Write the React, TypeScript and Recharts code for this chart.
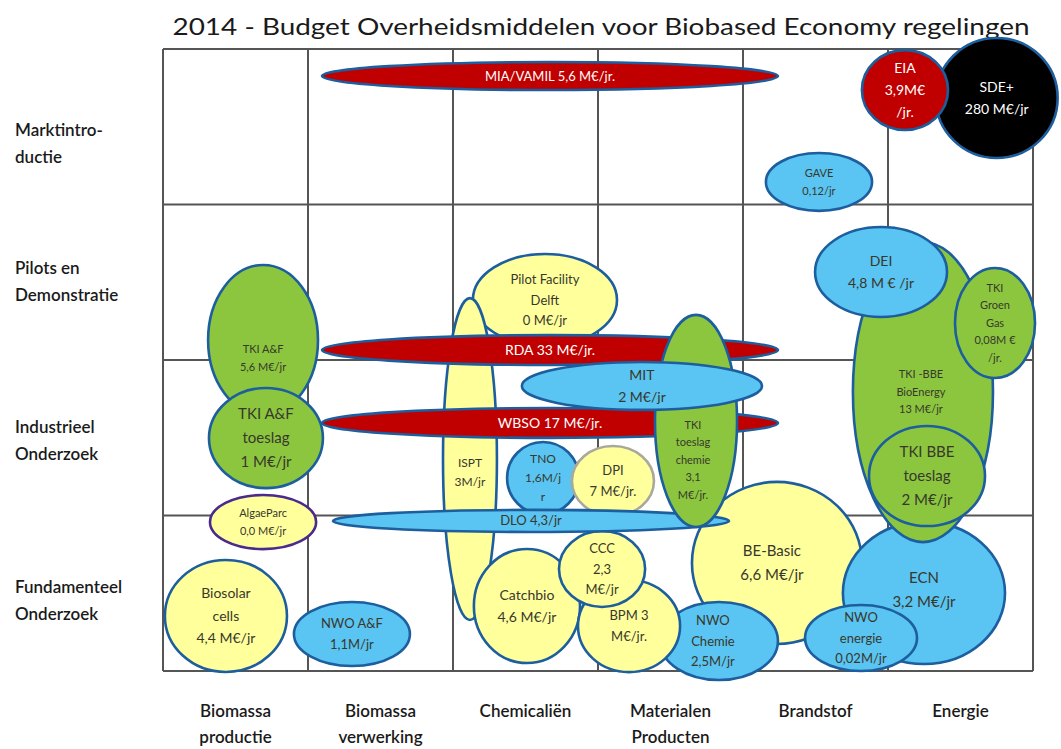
import React from 'react';
import { ScatterChart, Scatter, XAxis, YAxis, ReferenceLine } from 'recharts';

// chart frame
const W = 1061;
const H = 749;
const LEFT = 163;
const RIGHT = 28;
const TOP = 49;
const BOTTOM = 78;
const PW = W - LEFT - RIGHT;
const PH = H - TOP - BOTTOM;

const columns = [
    ['Biomassa', 'productie'],
    ['Biomassa', 'verwerking'],
    ['Chemicaliën'],
    ['Materialen', 'Producten'],
    ['Brandstof'],
    ['Energie'],
];
const columnTicks = [0.5, 1.5, 2.5, 3.5, 4.5, 5.5];

const rows = [
    ['Fundamenteel', 'Onderzoek'],
    ['Industrieel', 'Onderzoek'],
    ['Pilots en', 'Demonstratie'],
    ['Marktintro-', 'ductie'],
];
const rowTicks = [0.45, 1.48, 2.5, 3.39];

const gridX = [0, 1, 2, 3, 4, 5, 6];
const gridY = [0, 1, 2, 3, 4];

// regelingen, in drawing order (later ones sit on top)
const schemes = [
    'SDE+', 'EIA', 'MIA/VAMIL', 'GAVE', 'BE-Basic', 'ECN', 'TKI-BBE BioEnergy', 'DEI',
    'TKI Groen Gas', 'TKI BBE toeslag', 'NWO energie', 'NWO Chemie', 'Pilot Facility Delft', 'ISPT',
    'Catchbio', 'BPM', 'CCC', 'TNO', 'DPI', 'DLO', 'RDA', 'WBSO', 'TKI toeslag chemie', 'MIT',
    'TKI A&F', 'TKI A&F toeslag', 'AlgaeParc', 'Biosolar cells', 'NWO A&F',
];
const labels = [
    ['SDE+', '280 M€/jr'],
    ['EIA', '3,9M€', '/jr.'],
    ['MIA/VAMIL 5,6 M€/jr.'],
    ['GAVE', '0,12/jr'],
    ['BE-Basic', '6,6 M€/jr'],
    ['ECN', '3,2 M€/jr'],
    ['TKI -BBE', 'BioEnergy', '13 M€/jr'],
    ['DEI', '4,8 M € /jr'],
    ['TKI', 'Groen', 'Gas', '0,08M €', '/jr.'],
    ['TKI BBE', 'toeslag', '2 M€/jr'],
    ['NWO', 'energie', '0,02M/jr'],
    ['NWO', 'Chemie', '2,5M/jr'],
    ['Pilot Facility', 'Delft', '0 M€/jr'],
    ['ISPT', '3M/jr'],
    ['Catchbio', '4,6 M€/jr'],
    ['BPM 3', 'M€/jr.'],
    ['CCC', '2,3', 'M€/jr'],
    ['TNO', '1,6M/j', 'r'],
    ['DPI', '7 M€/jr.'],
    ['DLO 4,3/jr'],
    ['RDA 33 M€/jr.'],
    ['WBSO 17 M€/jr.'],
    ['TKI', 'toeslag', 'chemie', '3,1', 'M€/jr.'],
    ['MIT', '2 M€/jr'],
    ['TKI A&F', '5,6 M€/jr'],
    ['TKI A&F', 'toeslag', '1 M€/jr'],
    ['AlgaeParc', '0,0 M€/jr'],
    ['Biosolar', 'cells', '4,4 M€/jr'],
    ['NWO A&F', '1,1M/jr'],
];
const kinds = [
    'black', 'red', 'red', 'blue', 'yellow', 'blue', 'green', 'blue',
    'green', 'green', 'blue', 'blue', 'yellow', 'yellow',
    'yellow', 'yellow', 'yellow', 'blue', 'yellow', 'blue', 'red', 'red', 'green', 'blue',
    'green', 'green', 'yellow', 'yellow', 'blue',
];
// centre (column units, row units) and half-widths in the same units
const xs = [5.75, 5.117, 2.669, 4.524, 4.234, 5.248, 5.241, 4.952, 5.738, 5.269, 4.814, 3.834, 2.634, 2.117, 2.51, 3.214, 3.028, 2.621, 3.103, 2.538, 2.669, 2.669, 3.676, 3.303, 0.69, 0.71, 0.69, 0.434, 1.303];
const ys = [3.685, 3.736, 3.826, 3.145, 0.695, 0.502, 1.794, 2.566, 2.238, 1.254, 0.212, 0.193, 2.386, 1.363, 0.418, 0.289, 0.656, 1.241, 1.222, 0.965, 2.064, 1.595, 1.608, 1.833, 2.129, 1.498, 0.958, 0.354, 0.238];
const rxs = [0.42, 0.297, 1.572, 0.366, 0.586, 0.559, 0.483, 0.455, 0.276, 0.4, 0.386, 0.407, 0.497, 0.186, 0.366, 0.352, 0.297, 0.248, 0.283, 1.366, 1.572, 1.572, 0.283, 0.828, 0.379, 0.393, 0.366, 0.421, 0.4];
const rys = [0.386, 0.257, 0.09, 0.186, 0.521, 0.457, 0.965, 0.289, 0.354, 0.322, 0.212, 0.251, 0.296, 1.035, 0.367, 0.296, 0.244, 0.232, 0.225, 0.071, 0.096, 0.096, 0.682, 0.154, 0.482, 0.322, 0.174, 0.36, 0.206];

const data = schemes.map((name, i) => ({
    name,
    lines: labels[i],
    kind: kinds[i],
    x: xs[i],
    y: ys[i],
    rx: rxs[i],
    ry: rys[i],
}));

const FONT = 'Lato, "Open Sans", sans-serif';

const fills: Record<string, string> = {
    black: '#000000',
    red: '#c00000',
    blue: '#5ac4f2',
    green: '#8cc63f',
    yellow: '#ffff9c',
};

const textSize: Record<string, number> = {
    'SDE+': 14, EIA: 14, 'MIA/VAMIL': 13, GAVE: 11, 'BE-Basic': 15, ECN: 15, 'TKI-BBE BioEnergy': 11,
    DEI: 14, 'TKI Groen Gas': 11, 'TKI BBE toeslag': 15, ISPT: 12, Catchbio: 14, TNO: 12,
    RDA: 14, WBSO: 14, 'TKI toeslag chemie': 11, MIT: 14, 'TKI A&F': 11, 'TKI A&F toeslag': 15,
    AlgaeParc: 11, 'Biosolar cells': 14,
};
const textShift: Record<string, [number, number]> = {
    'TKI toeslag chemie': [-3, 39],
    'TKI A&F': [0, 18],
    ISPT: [0, 13],
    ECN: [0, -3],
    'NWO Chemie': [-6, 0],
    'TKI-BBE BioEnergy': [-2, 0],
    'BE-Basic': [-5, 0],
};
const borderColor: Record<string, string> = {
    AlgaeParc: '#4a2a8c',
    DPI: '#a9a89c',
};

const Bubble = (props: any) => {
    const { cx, cy, payload } = props;
    if (cx == null || cy == null) return null;
    const rx = payload.rx * (PW / 6);
    const ry = payload.ry * (PH / 4);
    const size = textSize[payload.name] ?? 13;
    const lh = size * 1.6;
    const [dx, dy] = textShift[payload.name] ?? [0, 0];
    const dark = payload.kind === 'red' || payload.kind === 'black';
    const n = payload.lines.length;
    return (
        <g>
            <ellipse
                cx={cx}
                cy={cy}
                rx={rx}
                ry={ry}
                fill={fills[payload.kind]}
                stroke={borderColor[payload.name] ?? '#1c5e9e'}
                strokeWidth={2.6}
            />
            {payload.lines.map((line: string, i: number) => (
                <text
                    key={i}
                    x={cx + dx}
                    y={cy + dy - ((n - 1) * lh) / 2 + i * lh + size * 0.35}
                    textAnchor="middle"
                    fontFamily={FONT}
                    fontSize={size}
                    fill={dark ? '#ffffff' : '#38382c'}
                >
                    {line}
                </text>
            ))}
        </g>
    );
};

const ColumnTick = (props: any) => {
    const { x, payload } = props;
    const idx = columnTicks.indexOf(payload.value);
    const lines = columns[idx] ?? [];
    return (
        <g>
            {lines.map((l, i) => (
                <text key={i} x={x} y={TOP + PH + 46 + i * 26} textAnchor="middle"
                    fontFamily={FONT} fontSize={17} fontWeight={600} fill="#1a1a1a">
                    {l}
                </text>
            ))}
        </g>
    );
};

const RowTick = (props: any) => {
    const { y, payload } = props;
    const idx = rowTicks.indexOf(payload.value);
    const lines = rows[idx] ?? [];
    return (
        <g>
            {lines.map((l, i) => (
                <text key={i} x={15} y={y - 8 + i * 27} textAnchor="start"
                    fontFamily={FONT} fontSize={17} fontWeight={600} fill="#1a1a1a">
                    {l}
                </text>
            ))}
        </g>
    );
};

export default function App() {
    return (
        <div style={{ position: 'absolute', left: 0, top: 0, width: W, height: H, background: '#fff' }}>
            <svg width={W} height={40} style={{ position: 'absolute', left: 0, top: 0 }}>
                <text x={601} y={35} textAnchor="middle" fontFamily={FONT} fontSize={23}
                    fill="#1a1a1a" textLength={857} lengthAdjust="spacingAndGlyphs">
                    2014 - Budget Overheidsmiddelen voor Biobased Economy regelingen
                </text>
            </svg>
            <div style={{ position: 'absolute', left: 0, top: 0 }}>
                <ScatterChart width={W} height={H} margin={{ top: TOP, right: RIGHT, bottom: 0, left: 0 }}
                    style={{ overflow: 'visible' }}>
                    <XAxis
                        type="number"
                        dataKey="x"
                        domain={[0, 6]}
                        ticks={columnTicks}
                        tick={<ColumnTick />}
                        axisLine={false}
                        tickLine={false}
                        height={BOTTOM}
                    />
                    <YAxis
                        type="number"
                        dataKey="y"
                        domain={[0, 4]}
                        ticks={rowTicks}
                        tick={<RowTick />}
                        axisLine={false}
                        tickLine={false}
                        width={LEFT}
                    />
                    {gridX.map((v) => (
                        <ReferenceLine key={'x' + v} x={v} stroke="#555" strokeWidth={2} ifOverflow="visible" />
                    ))}
                    {gridY.map((v) => (
                        <ReferenceLine key={'y' + v} y={v} stroke="#555" strokeWidth={2} ifOverflow="visible" />
                    ))}
                    <Scatter data={data} shape={<Bubble />} isAnimationActive={false} />
                </ScatterChart>
            </div>
        </div>
    );
}
